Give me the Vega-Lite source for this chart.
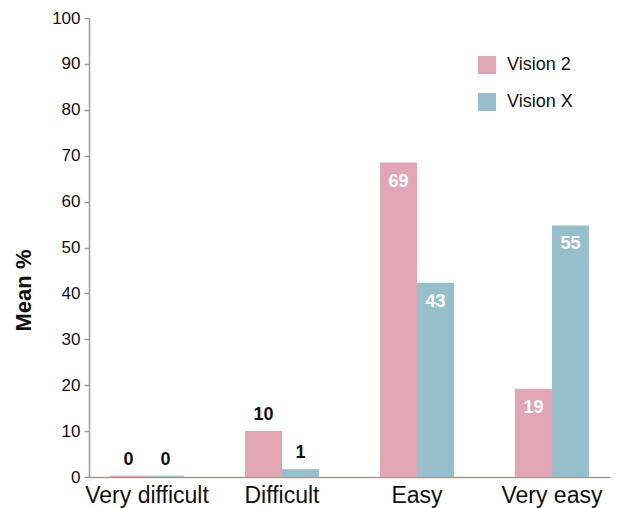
{
  "$schema": "https://vega.github.io/schema/vega-lite/v6.json",
  "width": 521,
  "height": 459,
  "autosize": "none",
  "padding": {"left": 89, "top": 18, "right": 12, "bottom": 31},
  "background": "white",
  "config": {
    "view": {"stroke": null},
    "font": "Liberation Sans"
  },
  "data": {
    "values": [
      {"category": "Very difficult", "series": "Vision 2", "value": 0.25, "label": "0"},
      {"category": "Very difficult", "series": "Vision X", "value": 0.25, "label": "0"},
      {"category": "Difficult", "series": "Vision 2", "value": 10, "label": "10"},
      {"category": "Difficult", "series": "Vision X", "value": 1.7, "label": "1"},
      {"category": "Easy", "series": "Vision 2", "value": 68.5, "label": "69"},
      {"category": "Easy", "series": "Vision X", "value": 42.3, "label": "43"},
      {"category": "Very easy", "series": "Vision 2", "value": 19.2, "label": "19"},
      {"category": "Very easy", "series": "Vision X", "value": 54.8, "label": "55"}
    ]
  },
  "encoding": {
    "x": {
      "field": "category",
      "type": "nominal",
      "sort": ["Very difficult", "Difficult", "Easy", "Very easy"],
      "scale": {"paddingInner": 0.452, "paddingOuter": 0.156},
      "axis": {
        "title": null,
        "labelAngle": 0,
        "labelFontSize": 23,
        "labelColor": "#111111",
        "labelPadding": 7,
        "ticks": false,
        "domainColor": "#A39A8E",
        "domainWidth": 1.5
      }
    },
    "xOffset": {
      "field": "series",
      "type": "nominal",
      "scale": {"paddingInner": 0, "paddingOuter": 0}
    },
    "y": {
      "field": "value",
      "type": "quantitative",
      "scale": {"domain": [0, 100], "nice": false},
      "axis": {
        "title": "Mean %",
        "titleFontSize": 22,
        "titleFontWeight": "bold",
        "titleColor": "#111111",
        "titleAngle": 270,
        "titleX": -66,
        "titleY": 272,
        "titleAlign": "center",
        "titleBaseline": "middle",
        "values": [0, 10, 20, 30, 40, 50, 60, 70, 80, 90, 100],
        "grid": false,
        "labelFontSize": 17,
        "labelColor": "#111111",
        "labelPadding": 4,
        "tickSize": 5,
        "tickColor": "#A39A8E",
        "tickWidth": 1.5,
        "domainColor": "#A39A8E",
        "domainWidth": 1.5
      }
    }
  },
  "layer": [
    {
      "mark": {"type": "bar"},
      "encoding": {
        "color": {
          "field": "series",
          "type": "nominal",
          "scale": {"domain": ["Vision 2", "Vision X"], "range": ["#E2A5B3", "#96BFCB"]},
          "legend": {
            "title": null,
            "orient": "none",
            "legendX": 389,
            "legendY": 38,
            "symbolType": "square",
            "symbolSize": 324,
            "symbolStrokeWidth": 0,
            "symbolOpacity": 1,
            "labelFontSize": 18,
            "labelColor": "#111111",
            "labelOffset": 11,
            "rowPadding": 19,
            "padding": 0
          }
        }
      }
    },
    {
      "transform": [{"filter": "datum.value < 15"}],
      "mark": {"type": "text", "baseline": "middle", "dy": -16, "fontSize": 18, "fontWeight": "bold", "color": "#111111"},
      "encoding": {"text": {"field": "label"}}
    },
    {
      "transform": [{"filter": "datum.value >= 15"}],
      "mark": {"type": "text", "baseline": "middle", "dy": 19, "fontSize": 18, "fontWeight": "bold", "color": "white"},
      "encoding": {"text": {"field": "label"}}
    }
  ]
}
